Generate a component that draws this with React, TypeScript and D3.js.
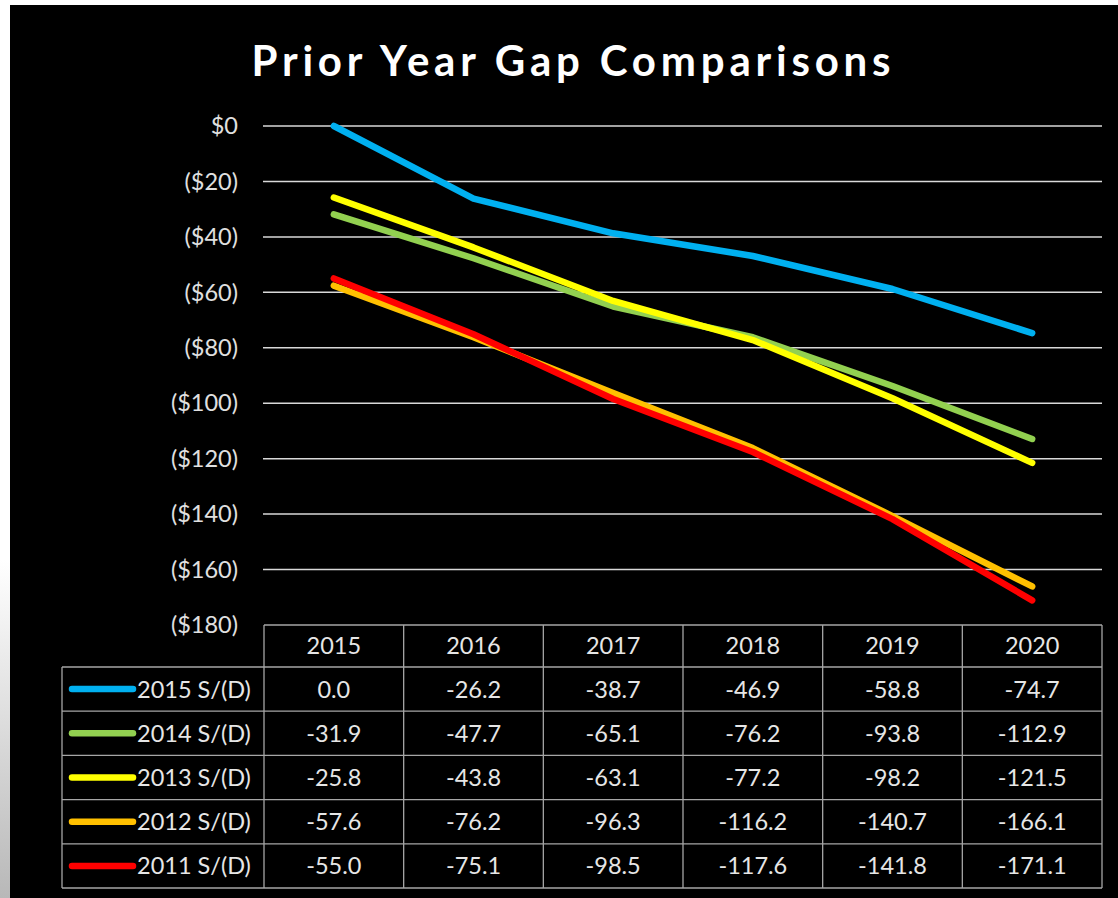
import React from "react";
import * as d3 from "d3";

const years = ["2015", "2016", "2017", "2018", "2019", "2020"];
const seriesNames = ["2015 S/(D)", "2014 S/(D)", "2013 S/(D)", "2012 S/(D)", "2011 S/(D)"];
const s2015 = [0.0, -26.2, -38.7, -46.9, -58.8, -74.7];
const s2014 = [-31.9, -47.7, -65.1, -76.2, -93.8, -112.9];
const s2013 = [-25.8, -43.8, -63.1, -77.2, -98.2, -121.5];
const s2012 = [-57.6, -76.2, -96.3, -116.2, -140.7, -166.1];
const s2011 = [-55.0, -75.1, -98.5, -117.6, -141.8, -171.1];
const seriesValues = [s2015, s2014, s2013, s2012, s2011];
const seriesColors = ["#00B0F0", "#92D050", "#FFFF00", "#FFC000", "#FF0000"];
const yTicks = [0, -20, -40, -60, -80, -100, -120, -140, -160, -180];
const title = "Prior Year Gap Comparisons";

const W = 1118;
const H = 898;
const FONT = "Lato, 'Open Sans', sans-serif";
const FS = 23.5;

export default function App() {
  const plotLeft = 264;
  const plotRight = 1102;
  const x = d3.scaleBand<string>().domain(years).range([plotLeft, plotRight]);
  const y = d3.scaleLinear().domain([0, -180]).range([126, 625]);
  const tableTop = 625;
  const headerBottom = 667;
  const rowH = (888 - headerBottom) / seriesNames.length;
  const tableLeft = 62;
  const tableBottom = headerBottom + rowH * seriesNames.length;

  const line = d3
    .line<number>()
    .x((_, i) => (x(years[i]) as number) + x.bandwidth() / 2)
    .y((d) => y(d));

  const fmtTick = (v: number) => (v === 0 ? "$0" : `($${Math.abs(v)})`);

  return (
    <svg
      width={W}
      height={H}
      style={{ position: "absolute", left: 0, top: 0, display: "block" }}
    >
      <defs>
        <linearGradient id="edge" x1="0" y1="0" x2="0" y2="1">
          <stop offset="0" stopColor="#ffffff" />
          <stop offset="1" stopColor="#b8b8b8" />
        </linearGradient>
      </defs>
      <rect x={0} y={0} width={W} height={H} fill="#ffffff" />
      <rect x={0} y={560} width={10} height={H - 560} fill="url(#edge)" />
      <rect x={10} y={5} width={W - 10} height={H - 5} fill="#000000" />

      <text
        x={571}
        y={76}
        textAnchor="middle"
        fill="#ffffff"
        fontFamily={FONT}
        fontWeight="bold"
        fontSize={42}
        textLength={639}
        lengthAdjust="spacing"
      >
        {title}
      </text>

      {yTicks.map((t) => (
        <g key={t}>
          {t !== -180 && (
            <line
              x1={263}
              x2={plotRight}
              y1={y(t)}
              y2={y(t)}
              stroke="#d9d9d9"
              strokeWidth={1.5}
            />
          )}
          <text
            x={238}
            y={y(t)}
            dy="0.35em"
            textAnchor="end"
            fill="#e0e0e0"
            fontFamily={FONT}
            fontSize={FS}
          >
            {fmtTick(t)}
          </text>
        </g>
      ))}

      <g stroke="#a6a6a6" strokeWidth={1.3} fill="none">
        <line x1={plotLeft} x2={plotRight} y1={tableTop} y2={tableTop} />
        {seriesNames.map((_, i) => (
          <line
            key={"h" + i}
            x1={tableLeft}
            x2={plotRight}
            y1={headerBottom + rowH * i}
            y2={headerBottom + rowH * i}
          />
        ))}
        <line x1={tableLeft} x2={plotRight} y1={tableBottom} y2={tableBottom} />
        <line x1={tableLeft} x2={tableLeft} y1={headerBottom} y2={tableBottom} />
        {years.map((yr) => (
          <line
            key={"v" + yr}
            x1={x(yr) as number}
            x2={x(yr) as number}
            y1={tableTop}
            y2={tableBottom}
          />
        ))}
        <line x1={plotRight} x2={plotRight} y1={tableTop} y2={tableBottom} />
      </g>

      {years.map((yr) => (
        <text
          key={"hd" + yr}
          x={(x(yr) as number) + x.bandwidth() / 2}
          y={(tableTop + headerBottom) / 2}
          dy="0.36em"
          textAnchor="middle"
          fill="#e6e6e6"
          fontFamily={FONT}
          fontSize={FS}
        >
          {yr}
        </text>
      ))}

      {seriesNames.map((name, i) => {
        const cy = headerBottom + rowH * i + rowH / 2;
        return (
          <g key={name}>
            <line
              x1={72}
              x2={133}
              y1={cy}
              y2={cy}
              stroke={seriesColors[i]}
              strokeWidth={6.5}
              strokeLinecap="round"
            />
            <text
              x={137}
              y={cy}
              dy="0.36em"
              fill="#e6e6e6"
              fontFamily={FONT}
              fontSize={FS}
            >
              {name}
            </text>
            {seriesValues[i].map((v, j) => (
              <text
                key={j}
                x={(x(years[j]) as number) + x.bandwidth() / 2}
                y={cy}
                dy="0.36em"
                textAnchor="middle"
                fill="#e6e6e6"
                fontFamily={FONT}
                fontSize={FS}
              >
                {v.toFixed(1)}
              </text>
            ))}
          </g>
        );
      })}

      {seriesValues.map((vals, i) => (
        <path
          key={"l" + i}
          d={line(vals) as string}
          fill="none"
          stroke={seriesColors[i]}
          strokeWidth={6.5}
          strokeLinecap="round"
          strokeLinejoin="round"
        />
      ))}
    </svg>
  );
}
